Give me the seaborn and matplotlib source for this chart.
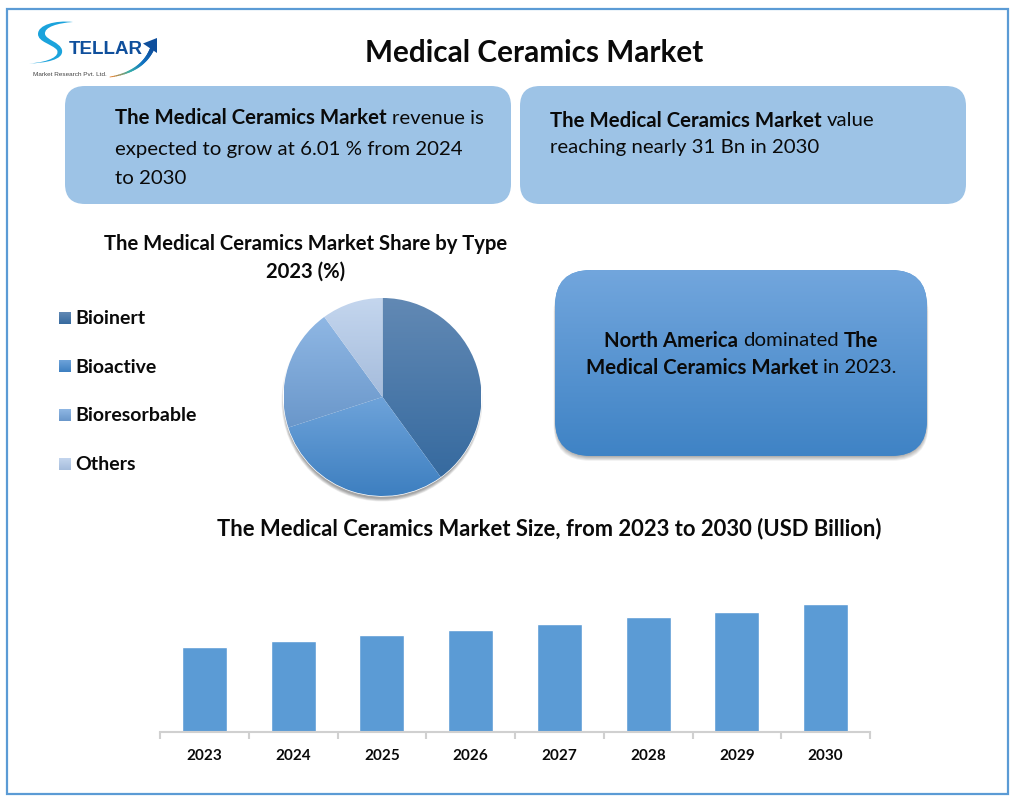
import numpy as np
import pandas as pd
import seaborn as sns
import matplotlib.pyplot as plt
from matplotlib.patches import FancyBboxPatch, Rectangle, Circle, PathPatch, Polygon
from matplotlib.path import Path
from matplotlib.font_manager import FontProperties

W, H = 1017, 803

share_labels = ["Bioinert", "Bioactive", "Bioresorbable", "Others"]
share_values = [40, 30, 20, 10]
share_tops = ["#6289b4", "#6ea3da", "#8fb7e4", "#c4d6ee"]
share_bottoms = ["#366a9f", "#3d7fc0", "#6a97ca", "#a5bcdc"]

years = ["2023", "2024", "2025", "2026", "2027", "2028", "2029", "2030"]
market_size = [20.6, 21.9, 23.4, 24.6, 26.1, 27.8, 29.0, 31.0]

sns.set_theme(style="white")
plt.rcParams["font.family"] = ["Lato", "DejaVu Sans"]

fig = plt.figure(figsize=(W / 100, H / 100), dpi=100, facecolor="white")
bg = fig.add_axes([0, 0, 1, 1])


def gradient(ax, extent, top, bottom, clip=None, zorder=3):
    c1 = np.array(plt.matplotlib.colors.to_rgb(top))
    c2 = np.array(plt.matplotlib.colors.to_rgb(bottom))
    t = np.linspace(0, 1, 128)[:, None, None]
    img = c1[None, None, :] * (1 - t) + c2[None, None, :] * t
    im = ax.imshow(img, extent=extent, aspect="auto", origin="upper", zorder=zorder, interpolation="bilinear")
    if clip is not None:
        im.set_clip_path(clip)
    return im


def round_box(ax, x0, y0, x1, y1, r, **kw):
    p = FancyBboxPatch((x0 + r, y0 + r), x1 - x0 - 2 * r, y1 - y0 - 2 * r,
                       boxstyle=f"round,pad={r},rounding_size={r}", **kw)
    ax.add_patch(p)
    return p


def text_width(s, size, weight):
    fp = FontProperties(family="Lato", size=size, weight=weight)
    r = fig.canvas.get_renderer()
    return r.get_text_width_height_descent(s, fp, False)[0]


def runs(ax, x, y, parts, size, center=False):
    gap = text_width("a a", size, "normal") - text_width("aa", size, "normal")
    widths = [text_width(s, size, w) for s, w in parts]
    if center:
        x = x - (sum(widths) + gap * (len(parts) - 1)) / 2
    for (s, w), wd in zip(parts, widths):
        ax.text(x, y, s, fontsize=size, fontweight=w, color="#0a0a0a", va="center", ha="left", zorder=6)
        x += wd + gap


# outer frame
bg.add_patch(Rectangle((6.5, 8.5), 1001, 785, fill=False, ec="#5b9bd5", lw=1.6))

# top text boxes
round_box(bg, 65, 86, 511, 204, 20, fc="#9dc3e6", ec="none", zorder=2)
round_box(bg, 520, 86, 966, 204, 20, fc="#9dc3e6", ec="none", zorder=2)

# gradient box with soft shadow
for i in range(7):
    round_box(bg, 556 - i * 0.4, 276, 926 + i * 0.4, 456 + i * 0.8, 36,
              fc="black", ec="none", alpha=0.06, zorder=1)
box = round_box(bg, 555, 270, 927, 456, 36, fc="#5b9bd5", ec="none", zorder=2)
gradient(bg, [555, 927, 456, 270], "#72a6dd", "#3f83c5", clip=box)

# legend swatches
for i, (lab, top, bottom) in enumerate(zip(share_labels, share_tops, share_bottoms)):
    yc = 317.5 + i * 48.7
    gradient(bg, [59, 71, yc + 6, yc - 6], top, bottom)
    bg.text(75.5, yc, lab, fontsize=14, fontweight="bold", color="#0a0a0a", va="center", zorder=6)

# pie shadow
for i in range(7):
    bg.add_patch(Circle((382, 401), 97.5 + i * 0.5, fc="black", ec="none", alpha=0.06, zorder=1))

# titles and box text
bg.text(534, 52, "Medical Ceramics Market", fontsize=21.4, fontweight="bold", color="#0a0a0a",
        ha="center", va="center")
runs(bg, 115, 117, [("The Medical Ceramics Market", "bold"), ("revenue is", "normal")], 14.7)
runs(bg, 115, 149, [("expected to grow at 6.01 % from 2024", "normal")], 14.7)
runs(bg, 115, 178, [("to 2030", "normal")], 14.7)
runs(bg, 550, 120, [("The Medical Ceramics Market", "bold"), ("value", "normal")], 14.7)
runs(bg, 550, 147, [("reaching nearly 31 Bn in 2030", "normal")], 14.7)
runs(bg, 741, 340, [("North America", "bold"), ("dominated", "normal"), ("The", "bold")], 14.7, center=True)
runs(bg, 741, 367, [("Medical Ceramics Market", "bold"), ("in 2023.", "normal")], 14.7, center=True)
bg.text(305.5, 243, "The Medical Ceramics Market Share by Type", fontsize=14.6, fontweight="bold",
        color="#0a0a0a", ha="center", va="center")
bg.text(305.5, 271, "2023 (%)", fontsize=14.6, fontweight="bold", color="#0a0a0a", ha="center", va="center")
bg.text(549, 528, "The Medical Ceramics Market Size, from 2023 to 2030 (USD Billion)", fontsize=15.85,
        fontweight="bold", color="#0a0a0a", ha="center", va="center")

# logo
swoosh = Path([(73, 22), (55, 20), (38, 25), (38, 34), (38, 42), (52, 44), (57, 50), (60, 56), (50, 62), (29, 63.5),
               (45, 63), (64, 60), (62, 50), (60, 42), (46, 40), (45, 34), (44, 27), (58, 23), (73, 22)],
              [Path.MOVETO] + [Path.CURVE4] * 18)
bg.add_patch(PathPatch(swoosh, fc="#1ba3dc", ec="none", zorder=4))
logo_font = ["Liberation Sans Narrow", "Liberation Sans"]
bg.text(69, 49, "TELLAR", fontsize=13.5, fontweight="bold", color="#0f4f9c", family=logo_font, va="center", zorder=5)
bg.text(33, 73, "Market Research Pvt. Ltd.", fontsize=4.6, color="#444444", family=logo_font, va="center", zorder=5)
tail_t = np.linspace(0, 1, 30)
tail_x = (1 - tail_t) ** 2 * 110 + 2 * tail_t * (1 - tail_t) * 142 + tail_t ** 2 * 152
tail_y = (1 - tail_t) ** 2 * 77 + 2 * tail_t * (1 - tail_t) * 72 + tail_t ** 2 * 49
tail_c = plt.matplotlib.colors.LinearSegmentedColormap.from_list("tail", ["#e8802a", "#38b0a8", "#1173c4", "#0f4f9c"])
for k in range(len(tail_t) - 1):
    bg.plot(tail_x[k:k + 2], tail_y[k:k + 2], color=tail_c(tail_t[k]), lw=0.6 + 2.6 * tail_t[k],
            solid_capstyle="round", zorder=4)
bg.add_patch(Polygon([(143, 43.5), (157, 38), (157, 53)], closed=True, fc="#0f4f9c", ec="none", zorder=4))

bg.set_xlim(0, W)
bg.set_ylim(H - 1, -1)
bg.axis("off")

# pie chart
r_pie = 99
ax_pie = fig.add_axes([(382.5 - r_pie) / W, 1 - (398 + r_pie) / H, 2 * r_pie / W, 2 * r_pie / H])
wedges, _ = ax_pie.pie(share_values, startangle=90, counterclock=False, radius=1, colors=share_tops)
for w, top, bottom in zip(wedges, share_tops, share_bottoms):
    b = w.get_path().get_extents(w.get_patch_transform())
    gradient(ax_pie, [b.x0, b.x1, b.y0, b.y1], top, bottom, clip=w)
    w.set_facecolor("none")
ax_pie.set_xlim(-1, 1)
ax_pie.set_ylim(-1, 1)
ax_pie.set_aspect("equal")
ax_pie.axis("off")

# bar chart
ax_bar = fig.add_axes([160 / W, 1 - 732.5 / H, 710 / W, 152.5 / H])
ax_bar.patch.set_alpha(0)
df = pd.DataFrame({"year": years, "size": market_size})
sns.barplot(data=df, x="year", y="size", color="#5b9bd5", saturation=1, width=0.505, ax=ax_bar)
ax_bar.set_xlim(-0.5, 7.5)
ax_bar.set_ylim(0, 37.1)
ax_bar.set_xlabel("")
ax_bar.set_ylabel("")
ax_bar.set_yticks([])
ax_bar.set_xticks(np.arange(-0.5, 8, 1), minor=True)
ax_bar.tick_params(axis="x", which="minor", length=5, width=1.5, color="#d0d0d0", bottom=True)
ax_bar.tick_params(axis="x", which="major", length=0, pad=12)
for t in ax_bar.get_xticklabels():
    t.set_fontsize(11)
    t.set_fontweight("bold")
    t.set_color("#0a0a0a")
sns.despine(ax=ax_bar, left=True)
ax_bar.spines["bottom"].set_color("#d0d0d0")
ax_bar.spines["bottom"].set_linewidth(1.5)

fig.savefig("out.png", dpi=100)
